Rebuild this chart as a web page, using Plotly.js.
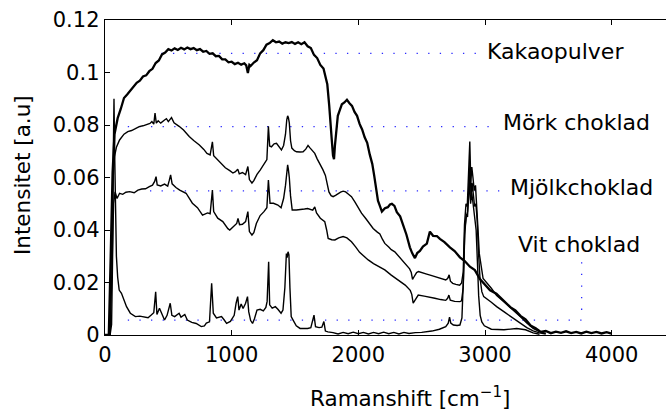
<!DOCTYPE html>
<html>
<head>
<meta charset="utf-8">
<script src="https://cdn.plot.ly/plotly-3.0.1.min.js"></script>
<style>
  html, body { margin: 0; padding: 0; background: #fff; overflow: hidden; }
  #chart { width: 666px; height: 412px; }
</style>
</head>
<body>
<div id="chart"></div>
<script>
// Raman spectra of four cocoa products: [Ramanshift (cm^-1), intensity (a.u.)]
const kakaopulver = [
  [0,0],[30,0],[45,0.03],[60,0.062],[75,0.0765],[90,0.0808],[100,0.0826],[125,0.0862],[150,0.0903],
  [175,0.0916],[200,0.0931],[225,0.0942],[250,0.0961],[275,0.0969],[300,0.0985],[325,0.0989],
  [350,0.1005],[375,0.1014],[400,0.1036],[425,0.1046],[450,0.1069],[475,0.1076],[500,0.1089],
  [525,0.1084],[550,0.1092],[575,0.1086],[600,0.1094],[625,0.1088],[650,0.1095],[675,0.1089],
  [700,0.1093],[725,0.1085],[750,0.1089],[775,0.1079],[800,0.1082],[825,0.1071],[850,0.1073],
  [875,0.1062],[900,0.1063],[925,0.1050],[950,0.1050],[975,0.1039],[1000,0.1041],[1025,0.1032],
  [1050,0.1037],[1075,0.1030],[1100,0.1035],[1115,0.1027],[1128,0.0998],[1140,0.1029],[1150,0.1025],
  [1175,0.1038],[1200,0.1047],[1225,0.1073],[1250,0.1085],[1275,0.1106],[1300,0.1112],[1325,0.1123],
  [1350,0.1115],[1375,0.1118],[1400,0.1110],[1425,0.1115],[1450,0.1112],[1475,0.1116],[1500,0.1109],
  [1525,0.1115],[1550,0.1108],[1575,0.1115],[1600,0.1100],[1625,0.1093],[1650,0.1067],[1675,0.1055],
  [1700,0.1029],[1725,0.1015],[1740,0.0990],[1755,0.0955],[1770,0.0875],[1780,0.0825],[1790,0.0745],
  [1800,0.0685],[1808,0.0670],[1815,0.0720],[1825,0.0765],[1838,0.0835],[1855,0.0859],[1870,0.0879],
  [1890,0.0886],[1910,0.0896],[1930,0.0883],[1950,0.0873],[1970,0.0850],[1990,0.0835],[2010,0.0804],
  [2030,0.0783],[2050,0.0753],[2070,0.0732],[2090,0.0688],[2110,0.0652],[2125,0.0608],[2140,0.0562],
  [2155,0.0512],[2170,0.0492],[2186,0.0470],[2210,0.0483],[2233,0.0487],[2250,0.0497],[2265,0.0500],
  [2285,0.0492],[2304,0.0468],[2330,0.0452],[2352,0.0423],[2380,0.0382],[2407,0.0334],[2425,0.0312],
  [2447,0.0293],[2465,0.0312],[2486,0.0320],[2510,0.0337],[2541,0.0348],[2565,0.0394],[2590,0.0378],
  [2620,0.0377],[2644,0.0366],[2680,0.0354],[2723,0.0334],[2760,0.0320],[2802,0.0296],[2840,0.0282],
  [2881,0.0260],[2920,0.0247],[2960,0.0213],[3000,0.0192],[3040,0.0170],[3090,0.0157],[3130,0.0138],
  [3160,0.0127],[3200,0.0106],[3240,0.0094],[3280,0.0073],[3320,0.0060],[3360,0.0036],[3400,0.0026],
  [3440,0.0012],[3480,0.0015],[3520,0.0007],[3560,0.0013],[3600,0.0008],[3640,0.0014],[3680,0.0007],
  [3720,0.0012],[3760,0.0006],[3800,0.0013],[3840,0.0007],[3880,0.0012],[3920,0.0006],[3960,0.0011],
  [4000,0.0005]
];

const morkChoklad = [
  [0,0],[35,0],[50,0.03],[62,0.058],[75,0.068],[90,0.0715],[115,0.0743],[150,0.0765],[180,0.0775],
  [210,0.0779],[240,0.0786],[270,0.0794],[300,0.0797],[330,0.0801],[355,0.0806],[370,0.0813],
  [385,0.0803],[395,0.0845],[405,0.0807],[420,0.0816],[440,0.0807],[470,0.0819],[485,0.0824],
  [500,0.0813],[510,0.0819],[525,0.0828],[545,0.0808],[565,0.0802],[585,0.0795],[620,0.0781],
  [665,0.0756],[700,0.0741],[745,0.0724],[780,0.0707],[805,0.0692],[830,0.0686],[848,0.0736],
  [858,0.0683],[880,0.0672],[920,0.0649],[950,0.0637],[985,0.0626],[1010,0.0617],[1030,0.0622],
  [1048,0.0632],[1060,0.0614],[1085,0.0619],[1110,0.0611],[1128,0.0642],[1140,0.0592],[1160,0.0579],
  [1175,0.0588],[1200,0.0612],[1225,0.0628],[1245,0.0645],[1262,0.0656],[1278,0.0668],[1290,0.0795],
  [1300,0.0720],[1314,0.0717],[1335,0.0728],[1354,0.0730],[1375,0.0718],[1393,0.0705],[1410,0.0722],
  [1425,0.0765],[1435,0.0820],[1442,0.0835],[1448,0.0828],[1455,0.0808],[1465,0.0740],[1475,0.0712],
  [1495,0.0702],[1512,0.0698],[1540,0.0697],[1564,0.0698],[1585,0.0708],[1603,0.0722],[1620,0.0712],
  [1656,0.0692],[1675,0.0671],[1696,0.0654],[1720,0.0630],[1740,0.0608],[1755,0.0575],[1768,0.0545],
  [1785,0.0531],[1801,0.0527],[1820,0.0532],[1841,0.0540],[1860,0.0544],[1880,0.0548],[1900,0.0545],
  [1920,0.0537],[1946,0.0527],[1975,0.0505],[2000,0.0485],[2025,0.0464],[2060,0.0443],[2090,0.0425],
  [2117,0.0406],[2150,0.0392],[2170,0.0385],[2190,0.0365],[2209,0.0349],[2240,0.0335],[2260,0.0325],
  [2288,0.0317],[2320,0.0300],[2350,0.0282],[2380,0.0265],[2405,0.0252],[2418,0.0238],[2428,0.0212],
  [2440,0.0222],[2460,0.0238],[2475,0.0242],[2500,0.0237],[2540,0.0232],[2580,0.0226],[2620,0.0220],
  [2660,0.0214],[2690,0.0210],[2705,0.0215],[2717,0.0229],[2727,0.0205],[2745,0.0197],[2770,0.0193],
  [2800,0.0190],[2815,0.0198],[2828,0.0240],[2838,0.0420],[2850,0.0500],[2860,0.0490],[2870,0.0620],
  [2880,0.0737],[2888,0.0580],[2896,0.0640],[2905,0.0600],[2915,0.0550],[2925,0.0570],[2935,0.0500],
  [2945,0.0400],[2955,0.0310],[2968,0.0260],[2985,0.0215],[3050,0.0178],[3092,0.0150],[3160,0.0122],
  [3223,0.0096],[3280,0.0070],[3330,0.0046],[3380,0.0025],[3430,0.0013],[3480,0.0006]
];

const mjolkChoklad = [
  [0,0],[40,0],[55,0.025],[68,0.05],[80,0.0545],[95,0.052],[115,0.054],[140,0.0536],[165,0.0544],
  [195,0.0546],[230,0.0542],[260,0.0552],[290,0.0556],[320,0.0557],[350,0.0565],[375,0.0571],
  [392,0.0585],[403,0.0603],[412,0.0572],[440,0.0568],[470,0.0575],[495,0.0567],[508,0.0590],
  [518,0.0610],[530,0.0576],[560,0.0562],[590,0.0552],[640,0.0540],[690,0.0502],[730,0.0485],
  [770,0.0457],[810,0.0465],[830,0.0462],[848,0.0552],[858,0.0470],[890,0.0445],[930,0.0432],
  [970,0.0405],[985,0.0400],[1010,0.0410],[1040,0.0425],[1050,0.0444],[1062,0.0420],[1085,0.0422],
  [1110,0.0432],[1128,0.0470],[1140,0.0394],[1160,0.0381],[1175,0.0390],[1195,0.0425],[1225,0.0455],
  [1255,0.0470],[1278,0.0485],[1290,0.0590],[1303,0.0502],[1330,0.0502],[1365,0.0495],[1390,0.0485],
  [1410,0.0520],[1425,0.0570],[1435,0.0625],[1442,0.0648],[1448,0.0630],[1455,0.0600],[1465,0.0530],
  [1478,0.0476],[1510,0.0476],[1545,0.0477],[1575,0.0480],[1600,0.0482],[1620,0.0478],[1640,0.0476],
  [1656,0.0488],[1670,0.0465],[1700,0.0445],[1735,0.0432],[1750,0.0400],[1762,0.0368],[1790,0.0363],
  [1815,0.0362],[1845,0.0370],[1880,0.0375],[1910,0.0370],[1946,0.0355],[1980,0.0335],[2010,0.0315],
  [2045,0.0300],[2078,0.0286],[2120,0.0272],[2170,0.0260],[2209,0.0248],[2260,0.0228],[2315,0.0210],
  [2370,0.0190],[2410,0.0170],[2422,0.0155],[2433,0.0121],[2450,0.0135],[2473,0.0152],[2520,0.0148],
  [2560,0.0145],[2604,0.0140],[2650,0.0135],[2690,0.0132],[2705,0.0140],[2715,0.0152],[2726,0.0133],
  [2760,0.0128],[2802,0.0127],[2815,0.0130],[2828,0.0180],[2840,0.0380],[2852,0.0460],[2862,0.0450],
  [2872,0.0560],[2882,0.0660],[2890,0.0520],[2898,0.0580],[2907,0.0540],[2918,0.0490],[2928,0.0500],
  [2938,0.0440],[2948,0.0320],[2960,0.0220],[2975,0.0165],[2990,0.0146],[3050,0.0125],[3092,0.0108],
  [3160,0.0085],[3223,0.0063],[3280,0.0045],[3330,0.0028],[3380,0.0016],[3430,0.0008],[3480,0.0004]
];

const vitChoklad = [
  [0,0],[40,0],[52,0.004],[60,0.03],[66,0.07],[71,0.09],[76,0.07],[82,0.045],[90,0.03],[100,0.022],
  [112,0.0171],[130,0.0159],[150,0.0130],[170,0.0108],[200,0.0083],[240,0.0070],[275,0.0072],
  [310,0.0070],[340,0.0066],[365,0.0076],[385,0.0085],[400,0.0165],[410,0.0078],[430,0.0102],
  [445,0.0085],[470,0.0057],[490,0.0075],[515,0.0121],[528,0.0075],[550,0.0070],[585,0.0083],
  [600,0.0068],[630,0.0078],[650,0.0057],[685,0.0048],[720,0.0044],[760,0.0032],[785,0.0035],
  [800,0.0045],[825,0.0050],[842,0.0197],[855,0.0083],[880,0.0065],[920,0.0070],[940,0.0058],
  [960,0.0044],[990,0.0052],[1020,0.0075],[1035,0.0121],[1048,0.0146],[1058,0.0095],[1075,0.0118],
  [1090,0.0101],[1110,0.0121],[1125,0.0146],[1135,0.0088],[1150,0.0055],[1165,0.0044],[1180,0.0062],
  [1200,0.0095],[1225,0.0098],[1250,0.0092],[1270,0.0105],[1280,0.0128],[1292,0.0279],[1300,0.0115],
  [1320,0.0102],[1345,0.0108],[1365,0.0098],[1390,0.0083],[1405,0.0095],[1420,0.0180],[1432,0.0310],
  [1438,0.0295],[1445,0.0317],[1452,0.0305],[1460,0.0180],[1470,0.0070],[1485,0.0057],[1510,0.0035],
  [1540,0.0025],[1600,0.0025],[1625,0.0028],[1650,0.0076],[1662,0.0032],[1690,0.0028],[1712,0.0030],
  [1728,0.0051],[1740,0.0015],[1760,0.0012],[1800,0.0009],[1840,0.0004],[1880,0.0010],[1920,0.0005],
  [1960,0.0011],[2000,0.0005],[2040,0.0010],[2080,0.0004],[2120,0.0010],[2160,0.0005],[2200,0.0011],
  [2240,0.0005],[2280,0.0010],[2320,0.0004],[2360,0.0010],[2400,0.0006],[2450,0.0009],[2500,0.0010],
  [2580,0.0015],[2640,0.0022],[2690,0.0032],
  [2710,0.0045],[2720,0.0068],[2730,0.0045],[2750,0.0038],[2780,0.0036],[2802,0.0038],[2818,0.0065],
  [2830,0.0220],[2840,0.0400],[2852,0.0450],[2862,0.0470],[2870,0.0520],[2877,0.0600],[2886,0.0500],
  [2896,0.0540],[2906,0.0500],[2918,0.0450],[2930,0.0400],[2940,0.0280],[2950,0.0150],[2962,0.0075],
  [2975,0.0050],[2995,0.0035],[3050,0.0022],[3150,0.0020],[3250,0.0025],[3320,0.0020],[3380,0.0008],
  [3430,0.0003]
];

// Dotted guide lines leading to each label
const guideKakao = [[445,0.1073],[2985,0.1073]];
const guideMork  = [[180,0.0794],[3078,0.0794]];
const guideMjolk = [[355,0.0549],[3157,0.0549]];
const guideVit   = [[180,0.0057],[3763,0.0057],[3763,0.0279]];

// Series labels and their anchor points (left edge, vertical middle)
const labelText = ['Kakaopulver', 'Mörk choklad', 'Mjölkchoklad', 'Vit choklad'];
const labelX = [3010, 3134, 3192, 3249];
const labelY = [0.1080, 0.0808, 0.0562, 0.0343];

const xTicks = [0, 1000, 2000, 3000, 4000];
const xTickText = ['0', '1000', '2000', '3000', '4000'];
const yTicks = [0, 0.02, 0.04, 0.06, 0.08, 0.1, 0.12];
const yTickText = ['0', '0.02', '0.04', '0.06', '0.08', '0.1', '0.12'];

const FONT = 'DejaVu Sans, Liberation Sans, Arial, sans-serif';

const xs = pts => pts.map(p => p[0]);
const ys = pts => pts.map(p => p[1]);

const guide = pts => ({
  x: xs(pts), y: ys(pts), mode: 'lines', hoverinfo: 'skip',
  line: { color: '#2a2aff', width: 1.3, dash: '1.3px,10.3px' }
});
const spectrum = (pts, w) => ({
  x: xs(pts), y: ys(pts), mode: 'lines', hoverinfo: 'skip',
  line: { color: '#000', width: w, shape: 'linear' }
});

const traces = [
  guide(guideKakao), guide(guideMork), guide(guideMjolk), guide(guideVit),
  spectrum(vitChoklad, 1.4),
  spectrum(mjolkChoklad, 1.4),
  spectrum(morkChoklad, 1.4),
  spectrum(kakaopulver, 2.3)
];

const annotations = labelText.map((t, i) => ({
  x: labelX[i], y: labelY[i], xref: 'x', yref: 'y',
  text: t, showarrow: false, xanchor: 'left', yanchor: 'middle',
  borderpad: 0, font: { family: FONT, size: 22, color: '#000' }
}));

annotations.push({
  xref: 'paper', yref: 'paper', x: 0.5437, y: -0.197,
  xanchor: 'center', yanchor: 'middle', showarrow: false,
  text: 'Ramanshift [cm<sup>−1</sup>]',
  font: { family: FONT, size: 21.5, color: '#000' }
});
annotations.push({
  xref: 'paper', yref: 'paper', x: -0.146, y: 0.508,
  xanchor: 'center', yanchor: 'middle', showarrow: false, textangle: -90,
  text: 'Intensitet [a.u]',
  font: { family: FONT, size: 21.5, color: '#000' }
});

const layout = {
  width: 666, height: 412,
  margin: { l: 105, r: 0, t: 20, b: 77, pad: 0 },
  paper_bgcolor: '#fff', plot_bgcolor: '#fff',
  showlegend: false,
  font: { family: FONT, size: 21, color: '#000' },
  xaxis: {
    range: [0, 4429], tickvals: xTicks, ticktext: xTickText,
    ticks: 'inside', ticklen: 5, tickwidth: 1, tickcolor: '#000',
    showline: true, linecolor: '#000', linewidth: 1.3, mirror: 'ticks',
    showgrid: false, zeroline: false,
    tickfont: { family: FONT, size: 21, color: '#000' }
  },
  yaxis: {
    range: [0, 0.12], tickvals: yTicks, ticktext: yTickText,
    ticks: 'inside', ticklen: 5, tickwidth: 1, tickcolor: '#000',
    showline: true, linecolor: '#000', linewidth: 1.3, mirror: false,
    showgrid: false, zeroline: false,
    tickfont: { family: FONT, size: 21, color: '#000' }
  },
  annotations: annotations
};

Plotly.newPlot('chart', traces, layout, { staticPlot: true, displayModeBar: false });
</script>
</body>
</html>
